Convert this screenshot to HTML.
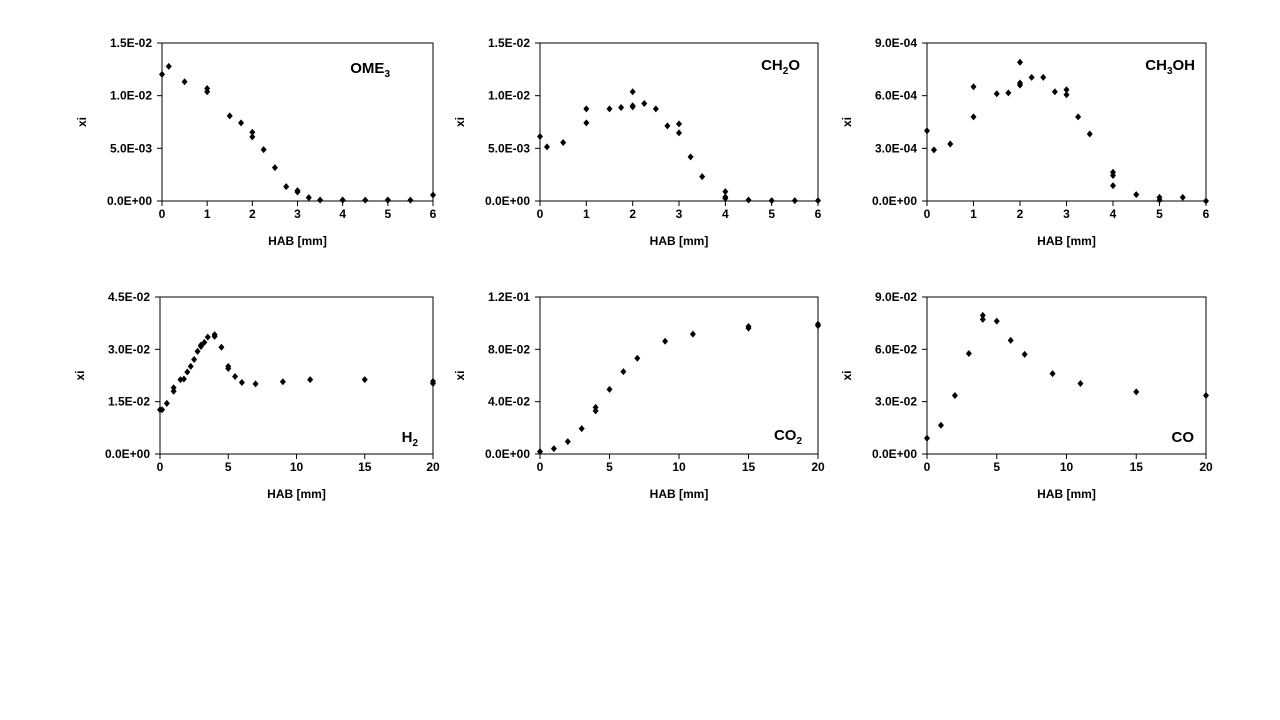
<!DOCTYPE html>
<html><head><meta charset="utf-8"><style>
body{margin:0;background:#fff;}
svg{display:block;font-family:"Liberation Sans",Arial,sans-serif;font-weight:bold;}
</style></head><body>
<svg id="chart" width="1280" height="720" viewBox="0 0 1280 720" xmlns="http://www.w3.org/2000/svg"></svg>
<script>
const omeX=[0,0.15,0.5,1,1,1.5,1.75,2,2,2.25,2.5,2.75,3,3,3.25,3.5,4,4,4.5,5,5,5.5,6];
const omeY=[0.01202,0.01278,0.01132,0.01068,0.01037,0.00808,0.00742,0.00653,0.00609,0.00488,0.00317,0.00136,0.00098,0.00086,0.00032,0.0001,0.00008,0.0001,0.00008,0.00008,0.0001,0.00008,0.00057];
const ch2oX=[0,0.15,0.5,1,1,1.5,1.75,2,2,2,2.25,2.5,2.75,3,3,3.25,3.5,4,4,4,4.5,5,5.5,6];
const ch2oY=[0.00612,0.00514,0.00555,0.00875,0.00742,0.00875,0.00888,0.01037,0.00904,0.00894,0.00926,0.00875,0.00713,0.00732,0.00647,0.00419,0.00231,0.00089,0.00038,0.00025,0.0001,0.00003,0.00003,0.00003];
const meohX=[0,0.15,0.5,1,1,1.5,1.75,2,2,2,2.25,2.5,2.75,3,3,3.25,3.5,4,4,4,4.5,5,5,5.5,6];
const meohY=[0.0004,0.000291,0.000325,0.000651,0.000479,0.000611,0.000616,0.00079,0.000672,0.00066,0.000704,0.000704,0.000622,0.000634,0.000605,0.000479,0.000382,0.000164,0.000145,0.0000875,0.000036,0.000021,0.000005,0.000021,0];
const h2X=[0,0.15,0.5,1,1,1.5,1.75,2,2.25,2.5,2.75,3,3,3.25,3.5,4,4,4.5,5,5,5.5,6,7,9,11,15,20,20];
const h2Y=[0.0127,0.0127,0.0145,0.018,0.019,0.0213,0.0215,0.0235,0.0251,0.0271,0.0294,0.0308,0.0312,0.032,0.0335,0.0342,0.0337,0.0306,0.0251,0.0245,0.0222,0.0205,0.0201,0.0207,0.0213,0.0213,0.0208,0.0202];
const co2X=[0,1,2,3,4,4,5,6,7,9,11,15,15,20,20];
const co2Y=[0.0018,0.0041,0.0095,0.0194,0.0356,0.033,0.0494,0.063,0.0732,0.0862,0.0916,0.0975,0.0962,0.0993,0.098];
const coX=[0,1,2,3,4,4,5,6,7,9,11,15,20];
const coY=[0.009,0.0165,0.0335,0.0576,0.0795,0.0772,0.0762,0.0651,0.0571,0.0461,0.0404,0.0356,0.0335];
const tickX6=[0,1,2,3,4,5,6];
const tickX20=[0,5,10,15,20];
const yTicksA=[0,0.005,0.01,0.015], yLabA=["0.0E+00","5.0E-03","1.0E-02","1.5E-02"];
const yTicksB=[0,0.0003,0.0006,0.0009], yLabB=["0.0E+00","3.0E-04","6.0E-04","9.0E-04"];
const yTicksC=[0,0.015,0.03,0.045], yLabC=["0.0E+00","1.5E-02","3.0E-02","4.5E-02"];
const yTicksD=[0,0.04,0.08,0.12], yLabD=["0.0E+00","4.0E-02","8.0E-02","1.2E-01"];
const yTicksE=[0,0.03,0.06,0.09], yLabE=["0.0E+00","3.0E-02","6.0E-02","9.0E-02"];

const NS="http://www.w3.org/2000/svg";
const svg=document.getElementById('chart');
function mk(tag,attrs,parent){const e=document.createElementNS(NS,tag);for(const k in attrs)e.setAttribute(k,attrs[k]);(parent||svg).appendChild(e);return e;}
const panels=[
 {id:'ome3',name:'OME',sub:'3',after:'',x0:162,x1:433,y0:201,y1:43,xmax:6,ymax:0.015,xs:omeX,ys:omeY,xt:tickX6,yt:yTicksA,yl:yLabA,lx:390,ly:73},
 {id:'ch2o',name:'CH',sub:'2',after:'O',x0:540,x1:818,y0:201,y1:43,xmax:6,ymax:0.015,xs:ch2oX,ys:ch2oY,xt:tickX6,yt:yTicksA,yl:yLabA,lx:800,ly:70},
 {id:'ch3oh',name:'CH',sub:'3',after:'OH',x0:927,x1:1206,y0:201,y1:43,xmax:6,ymax:0.0009,xs:meohX,ys:meohY,xt:tickX6,yt:yTicksB,yl:yLabB,lx:1195,ly:70},
 {id:'h2',name:'H',sub:'2',after:'',x0:160,x1:433,y0:454,y1:297,xmax:20,ymax:0.045,xs:h2X,ys:h2Y,xt:tickX20,yt:yTicksC,yl:yLabC,lx:418,ly:442},
 {id:'co2',name:'CO',sub:'2',after:'',x0:540,x1:818,y0:454,y1:297,xmax:20,ymax:0.12,xs:co2X,ys:co2Y,xt:tickX20,yt:yTicksD,yl:yLabD,lx:802,ly:440},
 {id:'co',name:'CO',sub:'',after:'',x0:927,x1:1206,y0:454,y1:297,xmax:20,ymax:0.09,xs:coX,ys:coY,xt:tickX20,yt:yTicksE,yl:yLabE,lx:1194,ly:442}
];
panels.forEach(p=>{
 const g=mk('g',{});
 
 
 const sx=v=>p.x0+(p.x1-p.x0)*v/p.xmax;
 const sy=v=>p.y0-(p.y0-p.y1)*v/p.ymax;
 const box=mk('rect',{x:p.x0,y:p.y1,width:p.x1-p.x0,height:p.y0-p.y1,fill:'none',stroke:'#000','stroke-width':1},g);
 
 
 p.yt.forEach((t,i)=>{
  const y=sy(t);
  mk('line',{x1:p.x0-5,x2:p.x0,y1:y,y2:y,stroke:'#000'},g);
  const tx=mk('text',{x:p.x0-10,y:y+4,'text-anchor':'end','font-size':12},g);
  
  
  tx.textContent=p.yl[i];
 });
 p.xt.forEach(t=>{
  const x=sx(t);
  mk('line',{x1:x,x2:x,y1:p.y0,y2:p.y0+5,stroke:'#000'},g);
  const tx=mk('text',{x:x,y:p.y0+17,'text-anchor':'middle','font-size':12},g);
  
  
  tx.textContent=t;
 });
 const xt=mk('text',{x:(p.x0+p.x1)/2,y:p.y0+44,'text-anchor':'middle','font-size':12},g);
 
 
 xt.textContent='HAB [mm]';
 const cy=(p.y0+p.y1)/2;
 const yt=mk('text',{x:p.x0-76,y:cy,'text-anchor':'middle','font-size':12,transform:`rotate(-90 ${p.x0-76} ${cy})`},g);
 
 
 yt.textContent='xi';
 p.xs.forEach((xv,i)=>{
  const x=sx(xv),y=sy(p.ys[i]);
  const d=mk('polygon',{points:`${x},${y-3.5} ${x+3},${y} ${x},${y+3.5} ${x-3},${y}`,fill:'#000'},g);
  
  
 });
 const lab=mk('text',{x:p.lx,y:p.ly,'text-anchor':'end','font-size':15},g);
 
 
 const t1=mk('tspan',{},lab);t1.textContent=p.name;
 if(p.sub){const t2=mk('tspan',{'font-size':10,dy:4},lab);t2.textContent=p.sub;}
 if(p.after){const t3=mk('tspan',{dy:p.sub?-4:0},lab);t3.textContent=p.after;}
});
</script>
</body></html>
